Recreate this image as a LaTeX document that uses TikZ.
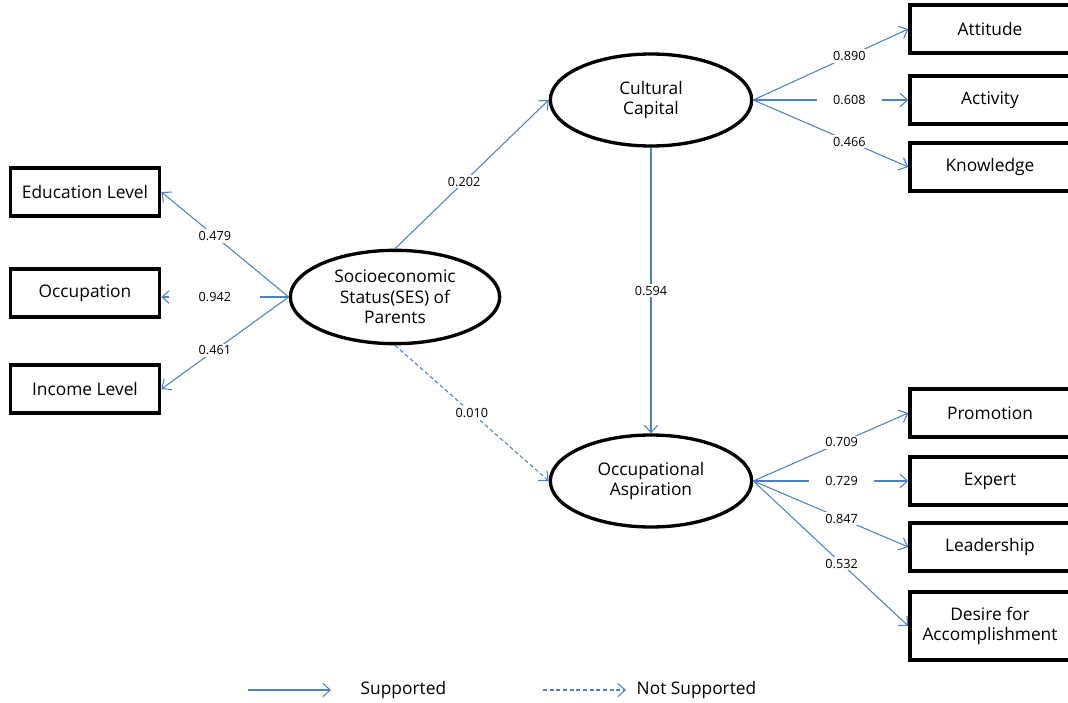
\documentclass[tikz,border=0pt]{standalone}
\usepackage{fontspec}
\setmainfont{Open Sans}
\usepackage{xcolor}
\usepackage{tikz}
\usetikzlibrary{shapes.geometric}
\usetikzlibrary{arrows.meta}
\definecolor{pathblue}{RGB}{79,129,189}
\tikzstyle{obsbox} = [draw=black, fill=white, line width=2.6pt, rectangle,
minimum width=120pt, minimum height=36pt, inner sep=2pt, align=center,
font=\fontsize{13}{15.5}\selectfont]
\tikzstyle{latent} = [draw=black, fill=white, line width=2.5pt, ellipse,
minimum width=151pt, minimum height=69pt, inner sep=0pt, align=center,
font=\fontsize{13}{15.5}\selectfont]
\tikzstyle{supp} = [pathblue, line width=0.8pt, -{Straight Barb[length=5.5pt,width=10pt]}]
\tikzstyle{notsupp} = [supp, dash pattern=on 3pt off 2pt]
\tikzstyle{coef} = [fill=white, inner sep=1.5pt, text=black, font=\fontsize{9.5}{10}\selectfont]
\tikzstyle{legendtext} = [font=\fontsize{13}{15.5}\selectfont]

\begin{document}
\begin{tikzpicture}[x=0.75pt, y=-0.75pt]
        \useasboundingbox (0,0) rectangle (1068,703);
        % latent variables
        \node [latent, minimum width=157pt, minimum height=70pt] (ses) at (395,297)
            {Socioeconomic\\Status(SES) of\\Parents};
        \node [latent] (cc) at (651,100) {Cultural\\Capital};
        \node [latent] (oa) at (651,481) {Occupational\\Aspiration};
        % observed variables
        \node [obsbox, minimum width=112pt] (edu) at (85,192) {Education Level};
        \node [obsbox, minimum width=112pt] (occ) at (85,293) {Occupation};
        \node [obsbox, minimum width=112pt] (inc) at (85,389) {Income Level};
        \node [obsbox] (att) at (990,29) {Attitude};
        \node [obsbox] (act) at (990,100) {Activity};
        \node [obsbox] (know) at (990,167) {Knowledge};
        \node [obsbox] (prom) at (990,413) {Promotion};
        \node [obsbox] (exp) at (990,481) {Expert};
        \node [obsbox] (lead) at (990,547) {Leadership};
        \node [obsbox, minimum height=51pt] (desire) at (990,626) {Desire for\\Accomplishment};
        % paths
        \draw [supp] (ses.west) -- node[coef, pos=0.58] {0.479} (edu.east);
        \draw [supp] (ses.west) -- node[coef, pos=0.58, inner xsep=22pt] {0.942} (occ.east |- ses.west);
        \draw [supp] (ses.west) -- node[coef, pos=0.58] {0.461} (inc.east);
        \draw [supp] (ses.north) -- node[coef, pos=0.45] {0.202} (cc.west);
        \draw [notsupp] (ses.south) -- node[coef, pos=0.5] {0.010} (oa.west);
        \draw [supp] (cc.south) -- node[coef, pos=0.5] {0.594} (oa.north);
        \draw [supp] (cc.east) -- node[coef, pos=0.62] {0.890} (att.west);
        \draw [supp] (cc.east) -- node[coef, pos=0.62, inner xsep=12pt] {0.608} (act.west);
        \draw [supp] (cc.east) -- node[coef, pos=0.62] {0.466} (know.west);
        \draw [supp] (oa.east) -- node[coef, pos=0.57] {0.709} (prom.west);
        \draw [supp] (oa.east) -- node[coef, pos=0.57, inner xsep=12pt] {0.729} (exp.west);
        \draw [supp] (oa.east) -- node[coef, pos=0.57] {0.847} (lead.west);
        \draw [supp] (oa.east) -- node[coef, pos=0.57] {0.532} (desire.west);
        % legend
        \coordinate (s1) at (248,690);
        \coordinate (s2) at (331,690);
        \coordinate (n1) at (543,690);
        \coordinate (n2) at (626,690);
        \draw [supp] (s1) -- (s2);
        \node [legendtext, anchor=west] (lsupp) at (356,690) {Supported};
        \draw [notsupp] (n1) -- (n2);
        \node [legendtext, anchor=west] (lnot) at (632,690) {Not Supported};
    \end{tikzpicture}
\end{document}
